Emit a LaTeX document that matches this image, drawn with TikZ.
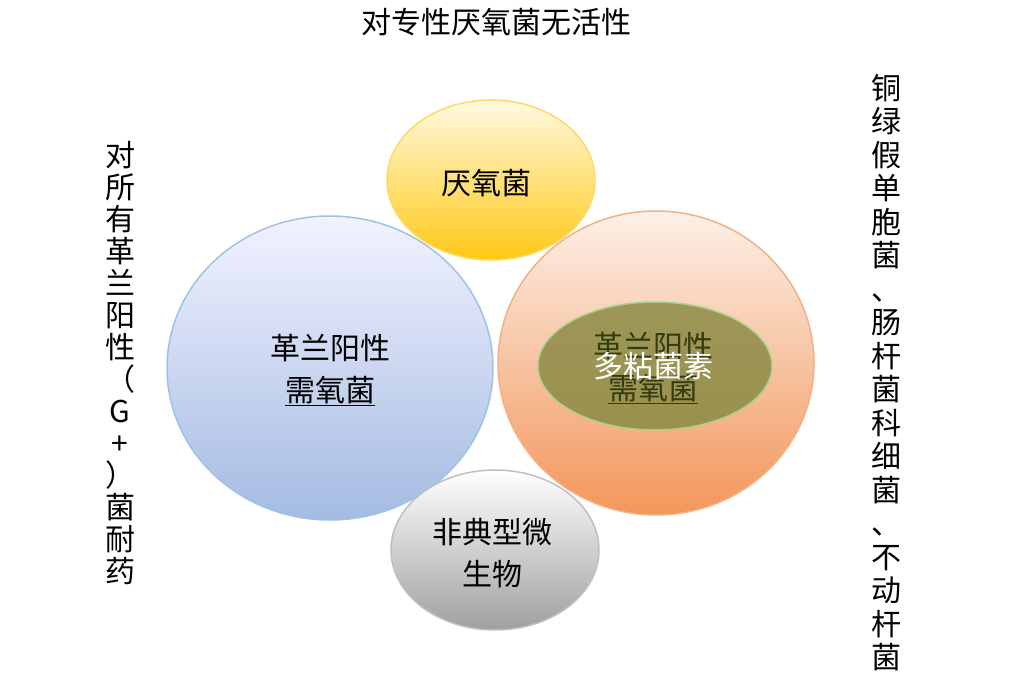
\documentclass[tikz,border=0pt]{standalone}
\usepackage{fontspec}
\newfontfamily\cjk{Noto Sans CJK SC}
\begin{document}
\begin{tikzpicture}[x=1pt,y=-1pt,
  lbl/.style={font=\cjk\fontsize{30}{42}\selectfont,align=center,inner sep=0pt},
  vt/.style={font=\cjk\fontsize{30}{33.5}\selectfont,align=center,inner sep=0pt,text width=32pt}]
\useasboundingbox (0,0) rectangle (1013,685);
\fill[white] (0,0) rectangle (1013,685);
\shade[top color=blue!5!white,bottom color={rgb,255:red,164;green,187;blue,226},draw={rgb,255:red,157;green,195;blue,230},line width=1.5pt]
  (330,368) ellipse [x radius=163,y radius=152];
\shade[top color={rgb,255:red,252;green,240;blue,232},bottom color={rgb,255:red,243;green,150;blue,90},draw={rgb,255:red,244;green,177;blue,131},line width=1.5pt]
  (656,363) ellipse [x radius=158,y radius=152];
\shade[top color={rgb,255:red,255;green,250;blue,225},bottom color={rgb,255:red,255;green,200;blue,20},draw={rgb,255:red,255;green,217;blue,102},line width=1.5pt]
  (491,180) ellipse [x radius=104,y radius=80];
\shade[top color=white,bottom color={rgb,255:red,160;green,160;blue,160},draw={rgb,255:red,191;green,191;blue,191},line width=1.5pt]
  (495,550) ellipse [x radius=104,y radius=80];
\fill[fill={rgb,255:red,140;green,140;blue,70},fill opacity=0.85,draw={rgb,255:red,169;green,209;blue,142},draw opacity=1,line width=1.5pt]
  (655,366) ellipse [x radius=117,y radius=64];
\node[lbl,text={rgb,255:red,50;green,60;blue,15}] (inner) at (653,368) {革兰阳性\\\underline{需氧菌}};
\node[lbl,text=white] (pm) at (653,366) {多粘菌素};
\node[lbl] (ana) at (486,183) {厌氧菌};
\node[lbl] (gp) at (330,370) {革兰阳性\\\underline{需氧菌}};
\node[lbl] (aty) at (492,553) {非典型微\\生物};
\node[lbl] (title) at (496,22) {对专性厌氧菌无活性};
\node[vt,anchor=north,font=\cjk\fontsize{30}{32}\selectfont] (left) at (120,141) {对\\所\\有\\革\\兰\\阳\\性\\（\\G\\+\\）\\菌\\耐\\药};
\node[vt,anchor=north] (right) at (886,74) {铜\\绿\\假\\单\\胞\\菌\\、\\肠\\杆\\菌\\科\\细\\菌\\、\\不\\动\\杆\\菌};
\end{tikzpicture}
\end{document}
